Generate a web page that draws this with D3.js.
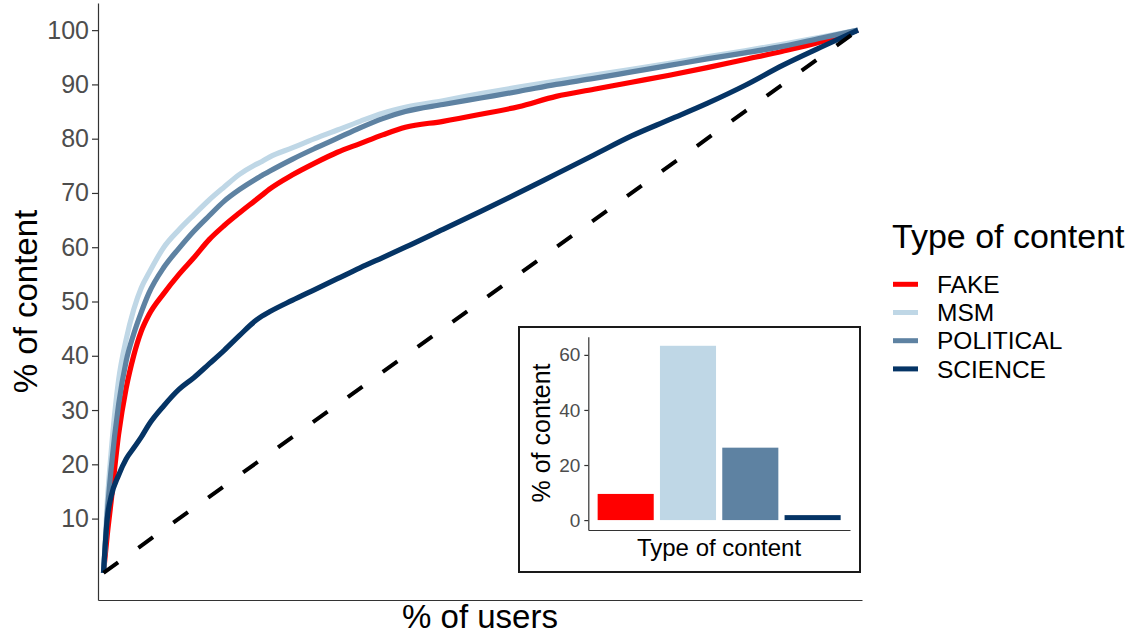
<!DOCTYPE html>
<html>
<head>
<meta charset="utf-8">
<script src="https://cdn.jsdelivr.net/npm/d3@7"></script>
<style>
  html, body { margin: 0; padding: 0; background: #ffffff; }
  svg { display: block; font-family: "Liberation Sans", Arial, sans-serif; }
</style>
</head>
<body>
<svg id="chart" width="1132" height="635"></svg>
<script>
// ---------------- DATA ----------------
const categories = ["FAKE", "MSM", "POLITICAL", "SCIENCE"];
const seriesColors = ["#FF0000", "#BFD7E6", "#5E82A2", "#053465"];

// % of users (x grid, shared by all curves)
const usersPct = [0, 0.5, 1, 2, 3, 4, 5, 6, 8, 10, 12, 14, 16, 18, 20, 21, 22, 25, 28, 31, 34, 37, 40, 45, 50, 55, 60, 65, 70, 75, 80, 85, 90, 95, 100];

// % of content (cumulative) per type
const fakeContent = [0, 7, 13, 25.5, 34, 40, 44.5, 47.5, 51.5, 55, 58.1, 61.4, 64, 66.3, 68.5, 69.6, 70.7, 73.3, 75.5, 77.5, 79.1, 80.7, 82.1, 83.2, 84.5, 85.9, 87.8, 89.1, 90.4, 91.7, 93.1, 94.6, 96.1, 97.8, 100];
const msmContent = [0, 13, 22, 35.5, 43, 48.5, 52.5, 55.2, 60, 63.2, 66, 68.7, 71.1, 73.4, 75.1, 75.8, 76.6, 78.3, 80, 81.6, 83.2, 84.7, 85.8, 87, 88.3, 89.5, 90.6, 91.7, 92.8, 93.9, 95.1, 96.2, 97.4, 98.7, 100];
const politicalContent = [0, 11, 19, 31, 39, 44, 48, 51.5, 56.3, 59.8, 63, 65.8, 68.5, 70.6, 72.4, 73.2, 74, 76.2, 78.2, 80.1, 82, 83.7, 85, 86.3, 87.5, 88.7, 90.0, 91.1, 92.3, 93.5, 94.7, 95.8, 97, 98.5, 100];
const scienceContent = [0, 10, 14, 18, 21, 23, 25, 27.3, 30.8, 33.8, 36, 38.5, 41, 43.7, 46.3, 47.3, 48.1, 50.2, 52.2, 54.2, 56.2, 58.1, 60, 63.3, 66.6, 70, 73.5, 77, 80.5, 83.5, 86.5, 89.8, 93.5, 96.8, 100];

// equality reference line
const equalityX = [0, 100];
const equalityY = [0, 100];

// main y axis ticks
const mainYTicks = [10, 20, 30, 40, 50, 60, 70, 80, 90, 100];

// inset: share of content by type
const insetShare = [9.5, 63.3, 26.3, 1.8];
const insetYTicks = [0, 20, 40, 60];

// ---------------- DRAW ----------------
const svg = d3.select("#chart");
svg.append("rect").attr("width", 1132).attr("height", 635).attr("fill", "#ffffff");

const x = d3.scaleLinear().domain([0, 100]).range([103.5, 858]);
const y = d3.scaleLinear().domain([-5, 105]).range([600, 3]);
const xAxisScale = d3.scaleLinear().domain([x.invert(98), x.invert(862)]).range([98, 862]);

// axes
const yAxisG = svg.append("g").attr("transform", "translate(98,0)")
  .call(d3.axisLeft(y).tickValues(mainYTicks).tickSize(6).tickSizeOuter(0).tickPadding(3));
yAxisG.select(".domain").attr("stroke", "#333333").attr("stroke-width", 1.2);
yAxisG.selectAll(".tick line").attr("stroke", "#333333").attr("stroke-width", 1.2);
yAxisG.selectAll(".tick text").attr("fill", "#4D4D4D").attr("font-size", 25)
  .attr("font-family", "Liberation Sans, Arial, sans-serif");

const xAxisG = svg.append("g").attr("transform", "translate(0,600)")
  .call(d3.axisBottom(xAxisScale).tickValues([]).tickSizeOuter(0));
xAxisG.select(".domain").attr("stroke", "#333333").attr("stroke-width", 1.2);

// titles
svg.append("text").attr("x", 480).attr("y", 628).attr("text-anchor", "middle")
  .attr("font-size", 33).attr("fill", "#000").text("% of users");
svg.append("text").attr("transform", "translate(37,301.5) rotate(-90)").attr("text-anchor", "middle")
  .attr("font-size", 33).attr("fill", "#000").text("% of content");

// curves
const seriesValues = [fakeContent, msmContent, politicalContent, scienceContent];
const line = d3.line().x(d => x(d[0])).y(d => y(d[1])).curve(d3.curveMonotoneX);
seriesValues.forEach((vals, i) => {
  const pts = usersPct.map((u, j) => [u, vals[j]]);
  svg.append("path").datum(pts)
    .attr("d", line)
    .attr("fill", "none")
    .attr("stroke", seriesColors[i])
    .attr("stroke-width", 5.2)
    .attr("stroke-linejoin", "round");
});

// dashed equality line
svg.append("path").datum(equalityX.map((u, j) => [u, equalityY[j]]))
  .attr("d", d3.line().x(d => x(d[0])).y(d => y(d[1])))
  .attr("fill", "none").attr("stroke", "#000").attr("stroke-width", 4)
  .attr("stroke-dasharray", "18,25");

// legend
const legend = svg.append("g");
legend.append("text").attr("x", 892).attr("y", 248).attr("font-size", 34).attr("fill", "#000")
  .text("Type of content");
categories.forEach((c, i) => {
  const cy = 284.3 + i * 28.2;
  legend.append("line").attr("x1", 893).attr("x2", 918).attr("y1", cy).attr("y2", cy)
    .attr("stroke", seriesColors[i]).attr("stroke-width", 5);
  legend.append("text").attr("x", 937).attr("y", cy + 8.6).attr("font-size", 24.5).attr("fill", "#000").text(c);
});

// inset
const inset = svg.append("g");
inset.append("rect").attr("x", 519).attr("y", 327).attr("width", 341).attr("height", 245)
  .attr("fill", "#ffffff").attr("stroke", "#1a1a1a").attr("stroke-width", 2);

const ix = d3.scaleBand().domain(categories).range([588.3, 850]).paddingInner(0.1).paddingOuter(0.15);
const iy = d3.scaleLinear().domain([-3.6, 66.6]).range([530, 336.7]);

inset.selectAll("rect.bar").data(insetShare).enter().append("rect")
  .attr("class", "bar")
  .attr("x", (d, i) => ix(categories[i]))
  .attr("width", ix.bandwidth())
  .attr("y", d => iy(d))
  .attr("height", d => iy(0) - iy(d))
  .attr("fill", (d, i) => seriesColors[i]);

const iyAxis = inset.append("g").attr("transform", "translate(588.3,0)")
  .call(d3.axisLeft(iy).tickValues(insetYTicks).tickSize(4).tickSizeOuter(0).tickPadding(4));
iyAxis.select(".domain").attr("stroke", "#333333").attr("stroke-width", 1.2);
iyAxis.selectAll(".tick line").attr("stroke", "#333333").attr("stroke-width", 1.2);
iyAxis.selectAll(".tick text").attr("fill", "#4D4D4D").attr("font-size", 19)
  .attr("font-family", "Liberation Sans, Arial, sans-serif");

const ixAxisScale = d3.scaleLinear().domain([0, 1]).range([588.3, 850]);
const ixAxis = inset.append("g").attr("transform", "translate(0,530)")
  .call(d3.axisBottom(ixAxisScale).tickValues([]).tickSizeOuter(0));
ixAxis.select(".domain").attr("stroke", "#333333").attr("stroke-width", 1.2);

inset.append("text").attr("x", 719).attr("y", 556).attr("text-anchor", "middle")
  .attr("font-size", 24).attr("fill", "#000").text("Type of content");
inset.append("text").attr("transform", "translate(550,433) rotate(-90)").attr("text-anchor", "middle")
  .attr("font-size", 25).attr("fill", "#000").text("% of content");
</script>
</body>
</html>
